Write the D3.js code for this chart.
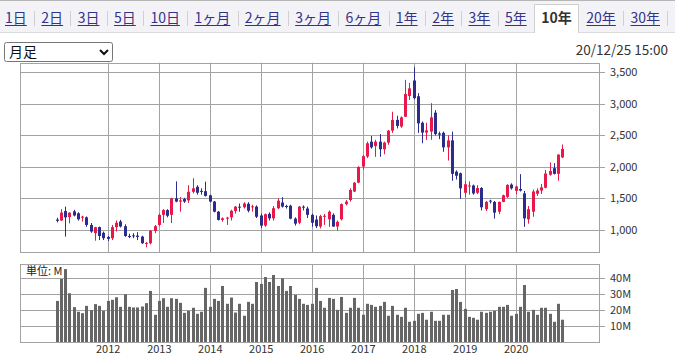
<!DOCTYPE html>
<html>
<head>
<meta charset="utf-8">
<script src="https://cdn.jsdelivr.net/npm/d3@7"></script>
<style>
  body { margin: 0; background: #fff; }
  text { font-family: "Noto Sans CJK JP", "Noto Sans", sans-serif; }
</style>
</head>
<body>
<div id="chart"></div>
<script>
// monthly candles, 2011-01 .. 2020-12
const open  = [1165,1150,1300,1205,1295,1265,1195,1200,1080,950, 1045,955, 890, 870, 1045,1135,1060,905, 915, 910,
               895, 785, 790, 985, 1080,1240,1315,1240,1500,1450,1490,1470,1605,1685,1620,1615,1550,1450,1290,1160,
               1180,1200,1300,1370,1360,1415,1360,1370,1230,1070,1255,1185,1345,1435,1380,1385,1180,1115,1370,1340,
               1240,1165,1055,1210,1170,1240,1055,1170,1410,1475,1610,1750,2005,2165,2400,2330,2400,2280,2385,2575,
               2745,2640,2795,3125,3370,3120,2700,2545,2560,2860,2530,2540,2310,2420,1925,1900,1590,1690,1705,1590,
               1665,1330,1465,1445,1290,1445,1525,1720,1620,1650,1580,1170,1290,1575,1625,1670,1875,1980,1890,2150];
const high  = [1195,1330,1370,1280,1320,1280,1225,1215,1110,1050,1055,975, 905, 1080,1150,1160,1090,940, 950, 965,
               910, 810, 1000,1080,1260,1330,1330,1510,1770,1520,1510,1710,1820,1710,1660,1765,1560,1460,1300,1200,
               1210,1320,1380,1420,1440,1440,1400,1390,1260,1260,1280,1380,1500,1520,1400,1400,1200,1380,1390,1370,
               1260,1230,1240,1255,1310,1265,1150,1420,1475,1660,1760,2010,2190,2400,2490,2430,2520,2400,2585,2875,
               2810,2800,3380,3330,3580,3170,2720,2700,3010,2900,2560,2560,2500,2560,1945,1910,1780,1770,1720,1710,
               1680,1460,1480,1460,1450,1560,1725,1740,1700,1885,1620,1380,1640,1660,1730,1950,2070,2060,2200,2355];
const low   = [1120,1145,895, 1105,1215,1150,1135,1050,955, 830, 840, 840, 825, 840, 975, 1040,890, 870, 870, 840,
               780, 725, 770, 950, 1060,1110,1200,1110,1440,1290,1430,1430,1580,1560,1560,1530,1440,1280,1150,1130,
               1080,1150,1260,1290,1340,1280,1290,1190,1030,1050,1150,1150,1330,1355,1340,1170,1070,1090,1310,1190,
               1050,1030,1025,1080,1050,1050,990, 1150,1390,1450,1600,1740,1960,2140,2290,2160,2160,2200,2350,2540,
               2610,2620,2790,3060,3070,2540,2375,2430,2430,2500,2440,2240,2100,1780,1800,1495,1520,1560,1560,1570,
               1310,1300,1420,1180,1250,1440,1510,1640,1570,1610,1050,1100,1210,1540,1570,1660,1860,1880,1780,2140];
const close = [1145,1275,1200,1275,1230,1170,1212,1080,975, 1045,905, 870, 860, 1045,1115,1055,905, 895, 905, 890,
               790, 795, 990, 1060,1240,1315,1225,1500,1450,1470,1450,1605,1660,1590,1605,1540,1450,1290,1160,1185,
               1195,1305,1370,1360,1420,1305,1375,1210,1070,1250,1185,1345,1465,1370,1370,1180,1100,1370,1360,1240,
               1115,1060,1220,1225,1290,1055,1130,1410,1450,1635,1750,2000,2170,2375,2310,2400,2280,2385,2575,2745,
               2650,2785,3155,3245,3090,2690,2545,2580,2785,2520,2510,2310,2420,1890,1860,1660,1725,1705,1580,1665,
               1360,1445,1455,1275,1445,1550,1715,1660,1690,1625,1185,1330,1610,1625,1675,1895,1935,1890,2195,2285];
// volume, millions of shares
const volume = [25.8,39.6,45.8,30.6,21.9,19.0,18.1,22.7,20.0,23.8,22.7,19.6,25.8,26.5,28.1,22.1,30.0,22.1,21.7,21.7,
                22.3,24.4,32.1,17.1,25.8,27.5,22.1,27.5,27.1,24.6,18.3,19.6,21.5,17.7,19.0,34.0,22.1,27.1,25.8,35.2,
                24.0,27.9,18.5,24.0,16.5,25.2,24.0,37.7,36.5,40.8,37.7,42.1,35.2,40.0,32.1,35.2,29.6,27.1,24.0,23.3,
                24.0,34.0,25.8,21.5,27.7,27.1,20.2,28.3,18.3,21.5,27.7,21.5,17.1,24.0,23.3,22.1,22.7,25.2,16.5,22.7,
                17.1,15.8,21.5,12.7,13.3,17.7,18.3,14.0,19.0,13.3,13.3,17.1,17.1,32.7,33.3,25.2,20.8,15.8,15.2,14.0,
                19.0,18.3,19.0,19.6,22.1,22.1,23.3,16.5,17.7,22.1,35.8,19.0,20.2,17.1,21.5,21.5,17.7,12.7,24.0,14.0];

const priceTicks = [1000, 1500, 2000, 2500, 3000, 3500];
const volTicks = [10, 20, 30, 40];
const years = [2012, 2013, 2014, 2015, 2016, 2017, 2018, 2019, 2020];
const tabs = ["1日","2日","3日","5日","10日","1ヶ月","2ヶ月","3ヶ月","6ヶ月","1年","2年","3年","5年","10年","20年","30年"];
const activeTab = "10年";
const months = d3.timeMonth.range(new Date(2011, 0, 1), new Date(2021, 0, 1));
const data = months.map((d, i) => ({date: d, o: open[i], h: high[i], l: low[i], c: close[i], v: volume[i]}));

const W = 675, H = 355;
const left = 20, right = 599;
const pTop = 62.7, pBottom = 252;
const vTop = 264, vBottom = 342;
const gridColor = "#a3a3a3";
const upColor = "#e8184a", downColor = "#2c2c8c";

const svg = d3.select("#chart").append("svg")
    .attr("width", W).attr("height", H);

// ---- tab bar
svg.append("rect").attr("x", 0).attr("y", 0).attr("width", W).attr("height", 33).attr("fill", "#f3f3f7");
svg.append("line").attr("x1", 0).attr("x2", W).attr("y1", 0.5).attr("y2", 0.5).attr("stroke", "#b5b5b5");
svg.append("line").attr("x1", 0).attr("x2", W).attr("y1", 32.5).attr("y2", 32.5).attr("stroke", "#dcdcdc");

const tabG = svg.append("g");
const tabTexts = tabG.selectAll("text").data(tabs).join("text")
    .attr("y", 23)
    .attr("font-size", 14)
    .attr("font-weight", d => d === activeTab ? "bold" : "normal")
    .attr("fill", d => d === activeTab ? "#333" : "#33338a")
    .text(d => d);
const widths = tabTexts.nodes().map(n => n.getComputedTextLength());
const span = 660 - 5;
const gap = (span - d3.sum(widths)) / (tabs.length - 1);
let cx = 5;
const tabPos = [];
widths.forEach(w => { tabPos.push({x: cx, w: w}); cx += w + gap; });
tabTexts.attr("x", (d, i) => tabPos[i].x);

tabs.forEach((t, i) => {
  const p = tabPos[i];
  if (t === activeTab) {
    const x0 = Math.round(p.x - gap / 2) + 0.5, x1 = Math.round(p.x + p.w + gap / 2) - 0.5;
    tabG.insert("path", "text")
        .attr("d", `M${x0},33 L${x0},4.5 L${x1},4.5 L${x1},33`)
        .attr("fill", "#fff").attr("stroke", "#cfcfcf");
  } else {
    tabG.append("line")
        .attr("x1", p.x).attr("x2", p.x + p.w)
        .attr("y1", 25.5).attr("y2", 25.5)
        .attr("stroke", "#33338a").attr("stroke-width", 1);
    const next = tabs[i + 1];
    if (next !== activeTab && tabs[i] !== activeTab) {
      const sx = Math.round(p.x + p.w + gap / 2) + 0.5;
      tabG.append("line").attr("x1", sx).attr("x2", sx).attr("y1", 11).attr("y2", 26)
          .attr("stroke", "#d0d0d0");
    }
  }
});

// ---- select box and timestamp
svg.append("rect").attr("x", 4.5).attr("y", 42.5).attr("width", 108).attr("height", 19).attr("rx", 2)
    .attr("fill", "#fff").attr("stroke", "#767676");
svg.append("text").attr("x", 9).attr("y", 57).attr("font-size", 14).attr("fill", "#111").text("月足");
svg.append("path").attr("d", "M100,50 L104,54 L108,50").attr("fill", "none")
    .attr("stroke", "#111").attr("stroke-width", 2);
svg.append("text").attr("x", 668).attr("y", 55).attr("text-anchor", "end")
    .attr("font-size", 13.5).attr("fill", "#333").text("20/12/25 15:00");

// ---- scales
const x = d3.scaleTime()
    .domain([new Date(2010, 3, 9), new Date(2021, 7, 16)])
    .range([left, right]);
const y = d3.scaleLinear().domain([651, 3652]).range([pBottom, pTop]);
const yv = d3.scaleLinear().domain([0, 49]).range([vBottom, vTop]);
const px = v => Math.round(v) + 0.5;

function panel(top, bottom, scale, ticks, fmt) {
  const g = svg.append("g");
  g.selectAll("line.h").data(ticks).join("line")
      .attr("x1", left).attr("x2", right + 6)
      .attr("y1", d => px(scale(d))).attr("y2", d => px(scale(d)))
      .attr("stroke", gridColor);
  g.selectAll("line.v").data(years).join("line")
      .attr("x1", d => px(x(new Date(d, 0, 1)))).attr("x2", d => px(x(new Date(d, 0, 1))))
      .attr("y1", top).attr("y2", bottom)
      .attr("stroke", gridColor);
  g.append("rect").attr("x", left + 0.5).attr("y", Math.round(top) + 0.5)
      .attr("width", right - left).attr("height", Math.round(bottom) - Math.round(top))
      .attr("fill", "none").attr("stroke", gridColor);
  g.selectAll("text").data(ticks).join("text")
      .attr("x", 610).attr("y", d => scale(d)).attr("dy", "0.36em")
      .attr("font-size", 11).attr("fill", "#333")
      .text(fmt);
  return g;
}

panel(pTop, pBottom, y, priceTicks, d3.format(","));
const vg = panel(vTop, vBottom, yv, volTicks, d => d + "M");

// ---- candles
const cg = svg.append("g");
cg.selectAll("line").data(data).join("line")
    .attr("x1", d => px(x(d.date) - 0.5)).attr("x2", d => px(x(d.date) - 0.5))
    .attr("y1", d => y(d.h)).attr("y2", d => y(d.l))
    .attr("stroke", d => d.c >= d.o ? upColor : downColor);
cg.selectAll("rect").data(data).join("rect")
    .attr("x", d => Math.round(x(d.date) - 0.5) - 1)
    .attr("width", 3)
    .attr("y", d => y(Math.max(d.o, d.c)))
    .attr("height", d => Math.max(1, Math.abs(y(d.o) - y(d.c))))
    .attr("fill", d => d.c >= d.o ? upColor : downColor);

// ---- volume
svg.append("g").selectAll("rect").data(data).join("rect")
    .attr("x", d => Math.round(x(d.date) - 0.5) - 1)
    .attr("width", 3)
    .attr("y", d => yv(d.v))
    .attr("height", d => yv(0) - yv(d.v))
    .attr("fill", "#666");

svg.append("text").attr("x", 26).attr("y", 275).attr("font-size", 11).attr("fill", "#222").text("単位: M");

// ---- year labels
svg.append("g").selectAll("text").data(years).join("text")
    .attr("x", d => x(new Date(d, 0, 1))).attr("y", 353)
    .attr("text-anchor", "middle").attr("font-size", 11).attr("fill", "#333")
    .text(d => d);
</script>
</body>
</html>
